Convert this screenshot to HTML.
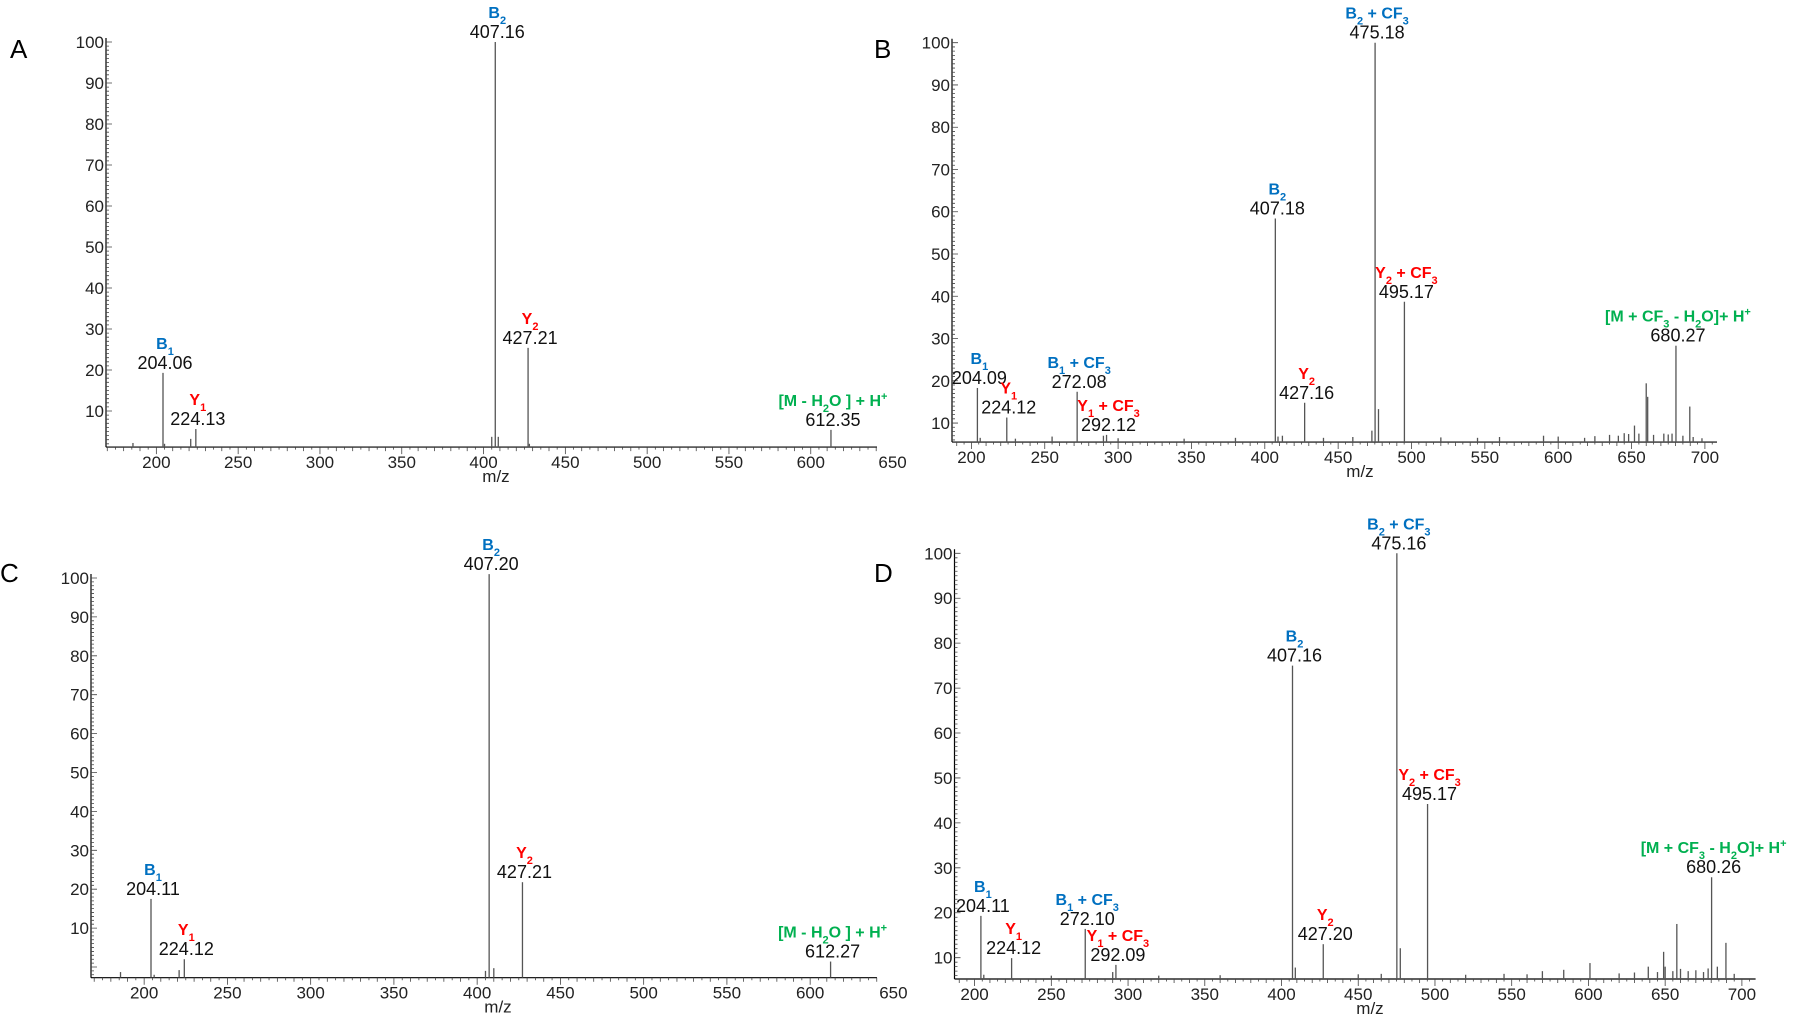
<!DOCTYPE html>
<html><head><meta charset="utf-8"><style>
body{margin:0;background:#fff}
svg{display:block}
text{font-family:"Liberation Sans",sans-serif}
</style></head><body>
<svg id="fig" width="1800" height="1020" viewBox="0 0 1800 1020" xmlns="http://www.w3.org/2000/svg">
<rect width="1800" height="1020" fill="#fff"/>
<text x="10" y="58" font-size="26">A</text>
<text x="874" y="58" font-size="26">B</text>
<text x="0" y="582" font-size="26">C</text>
<text x="874" y="582" font-size="26">D</text>
</svg>
<script>
// ---------- Panel A data ----------
const aPeakMz=[185.7,204.06,205,221,224.13,405,407.16,409,427.21,428,612.35];
const aPeakInt=[2.2,19.3,2.0,3.2,5.6,3.7,100,3.7,25.4,2.0,5.4];
const aAnnMz=[204.06,224.13,407.16,427.21,612.35];
const aAnnInt=[19.3,5.6,100,25.4,5.4];
const aAnnNum=["204.06","224.13","407.16","427.21","612.35"];
const aAnnIon=["B{1}","Y{1}","B{2}","Y{2}","[M - H{2}O ] + H^+"];
const aAnnKind=["b","y","b","y","m"];
// ---------- Panel B data ----------
const bPeakMz=[204.09,206,224.12,230,255,272.08,290,292.12,300,345,380,407.18,409,412,427.16,440,460,473,475.18,477.5,495.17,520,545,560,590,600,618,625,635,641,645,648,652,655,660,661,665,672,675,677.6,680.27,685,689.7,692,698];
const bPeakInt=[18.3,6.5,11.3,6.3,6.8,17.4,7.0,7.2,6.4,6.3,6.5,58.4,6.8,7.0,14.8,6.5,6.7,8.2,100,13.3,38.7,6.6,6.5,6.7,7.0,6.8,6.5,6.9,7.2,7.0,7.6,7.4,9.4,7.5,19.4,16.2,7.2,7.5,7.3,7.5,28.3,7.0,13.9,6.7,6.4];
const bAnnMz=[204.09,224.12,272.08,292.12,407.18,427.16,475.18,495.17,680.27];
const bAnnInt=[18.3,11.3,17.4,7.2,58.4,14.8,100,38.7,28.3];
const bAnnNum=["204.09","224.12","272.08","292.12","407.18","427.16","475.18","495.17","680.27"];
const bAnnIon=["B{1}","Y{1}","B{1} + CF{3}","Y{1} + CF{3}","B{2}","Y{2}","B{2} + CF{3}","Y{2} + CF{3}","[M + CF{3} - H{2}O]+ H^+"];
const bAnnKind=["b","y","b","y","b","y","b","y","m"];
// ---------- Panel C data ----------
const cPeakMz=[185.8,204.11,206,221,224.12,405,407.20,410,427.21,612.27];
const cPeakInt=[-1.3,17.5,-2.0,-0.8,2.0,-1.0,101,-0.3,21.8,1.4];
const cAnnMz=[204.11,224.12,407.20,427.21,612.27];
const cAnnInt=[17.5,2.0,101,21.8,1.4];
const cAnnNum=["204.11","224.12","407.20","427.21","612.27"];
const cAnnIon=["B{1}","Y{1}","B{2}","Y{2}","[M - H{2}O ] + H^+"];
const cAnnKind=["b","y","b","y","m"];
// ---------- Panel D data ----------
const dPeakMz=[204.11,206,224.12,250,272.10,290,292.09,320,360,407.16,409,427.20,450,465,477.4,475.16,495.17,520,545,560,570,583.9,601,620,630,639,645,649,650,655,657.6,660,665,670,675,678,680.26,684,689.6,695];
const dPeakInt=[19.3,6.2,9.9,6.0,16.4,6.8,8.4,6.0,6.1,75,7.8,13,6.3,6.4,12.1,100,44.2,6.2,6.4,6.3,7.0,7.3,8.8,6.5,6.7,8.0,6.8,11.3,8.0,7.0,17.5,7.5,7.0,7.2,6.8,7.6,27.9,8.0,13.3,6.4];
const dAnnMz=[204.11,224.12,272.10,292.09,407.16,427.20,475.16,495.17,680.26];
const dAnnInt=[19.3,9.9,16.4,8.4,75,13,100,44.2,27.9];
const dAnnNum=["204.11","224.12","272.10","292.09","407.16","427.20","475.16","495.17","680.26"];
const dAnnIon=["B{1}","Y{1}","B{1} + CF{3}","Y{1} + CF{3}","B{2}","Y{2}","B{2} + CF{3}","Y{2} + CF{3}","[M + CF{3} - H{2}O]+ H^+"];
const dAnnKind=["b","y","b","y","b","y","b","y","m"];
// ---------- shared ticks ----------
const xTicksAC=[200,250,300,350,400,450,500,550,600,650];
const xTicksBD=[200,250,300,350,400,450,500,550,600,650,700];
const yTicks=[10,20,30,40,50,60,70,80,90,100];

const NS="http://www.w3.org/2000/svg";
const svg=document.getElementById('fig');
const COLORS={b:"#0070C0",y:"#FF0000",m:"#00B050"};
function mk(tag,attrs,parent){const e=document.createElementNS(NS,tag);for(const k in attrs)e.setAttribute(k,attrs[k]);(parent||svg).appendChild(e);return e;}

function ionText(parent,str,x,y,color){
  const t=mk('text',{x:x,y:y,'text-anchor':'middle','font-size':16,'font-weight':'bold',fill:color},parent);
  
  
  const re=/\{([^}]*)\}|\^(.)|([^{^]+)/g;let m;
  while((m=re.exec(str))){
    const s=mk('tspan',{},t);
    if(m[1]!==undefined){s.setAttribute('font-size','11');s.setAttribute('baseline-shift','sub');s.textContent=m[1];}
    else if(m[2]!==undefined){s.setAttribute('font-size','11');s.setAttribute('baseline-shift','super');s.textContent=m[2];}
    else s.textContent=m[3];
  }
}

function panel(name,g,xTicks,pMz,pInt,aMz,aInt,aNum,aIon,aKind){
  const grp=mk('g',{});
  
  
  const px=mz=>g.x0+(mz-g.mz0)*g.s;
  const py=v=>g.y0-v*g.k;
  const yb=py(g.vBase);
  const mzMax=g.mz0+(g.xR-g.x0)/g.s, mzMin=g.mz0-(g.x0-g.xL)/g.s;
  const ya=mk('line',{x1:g.xL,y1:py(100)-4,x2:g.xL,y2:yb,stroke:'#000','stroke-width':1.2},grp);
  
  const xa=mk('line',{x1:g.xL,y1:yb,x2:g.xR,y2:yb,stroke:'#000','stroke-width':1.2},grp);
  
  let d='';
  for(let v=Math.ceil(g.vBase);v<=100;v++){const L=(v%10===0)?6:3;d+=`M${g.xL} ${py(v)}h${L}`;}
  for(let m=Math.ceil(mzMin/5)*5;m<=mzMax;m+=5){const L=(m%50===0)?7:(m%10===0?4:2.5);d+=`M${px(m)} ${yb}v${L}`;}
  mk('path',{d:d,stroke:'#444','stroke-width':0.8,fill:'none'},grp);
  yTicks.forEach(v=>{
    const t=mk('text',{x:g.xL-2,y:py(v)+6,'text-anchor':'end','font-size':17,fill:'#222'},grp);
    
    t.textContent=v;
  });
  xTicks.forEach(v=>{
    const t=mk('text',{x:px(v),y:yb+21,'text-anchor':'middle','font-size':17,fill:'#222'},grp);
    
    t.textContent=v;
  });
  const xt=mk('text',{x:g.tx,y:yb+35,'text-anchor':'middle','font-size':17,fill:'#222'},grp);
  
  xt.textContent='m/z';
  pMz.forEach((m,i)=>{
    const l=mk('line',{x1:px(m),x2:px(m),y1:yb,y2:py(pInt[i]),stroke:'#555','stroke-width':1.3},grp);
    
  });
  aMz.forEach((m,i)=>{
    const x=px(m)+2, top=py(aInt[i]);
    const n=mk('text',{x:x,y:top-4,'text-anchor':'middle','font-size':18,fill:'#111'},grp);
    
    n.textContent=aNum[i];
    ionText(grp,aIon[i],x,top-24,COLORS[aKind[i]]);
  });
}
panel('a',{xL:106,xR:877,x0:163,mz0:204.06,s:1.636,y0:452,k:4.1,vBase:1.2,tx:496},xTicksAC,aPeakMz,aPeakInt,aAnnMz,aAnnInt,aAnnNum,aAnnIon,aAnnKind);
panel('b',{xL:952,xR:1717,x0:977.4,mz0:204.09,s:1.467,y0:465.3,k:4.226,vBase:5.5,tx:1360},xTicksBD,bPeakMz,bPeakInt,bAnnMz,bAnnInt,bAnnNum,bAnnIon,bAnnKind);
panel('c',{xL:91,xR:877,x0:151,mz0:204.11,s:1.665,y0:967,k:3.89,vBase:-2.75,tx:498},xTicksAC,cPeakMz,cPeakInt,cAnnMz,cAnnInt,cAnnNum,cAnnIon,cAnnKind);
panel('d',{xL:954.5,xR:1755.6,x0:980.9,mz0:204.11,s:1.5346,y0:1002.6,k:4.493,vBase:5.25,tx:1370},xTicksBD,dPeakMz,dPeakInt,dAnnMz,dAnnInt,dAnnNum,dAnnIon,dAnnKind);
</script>
</body></html>
